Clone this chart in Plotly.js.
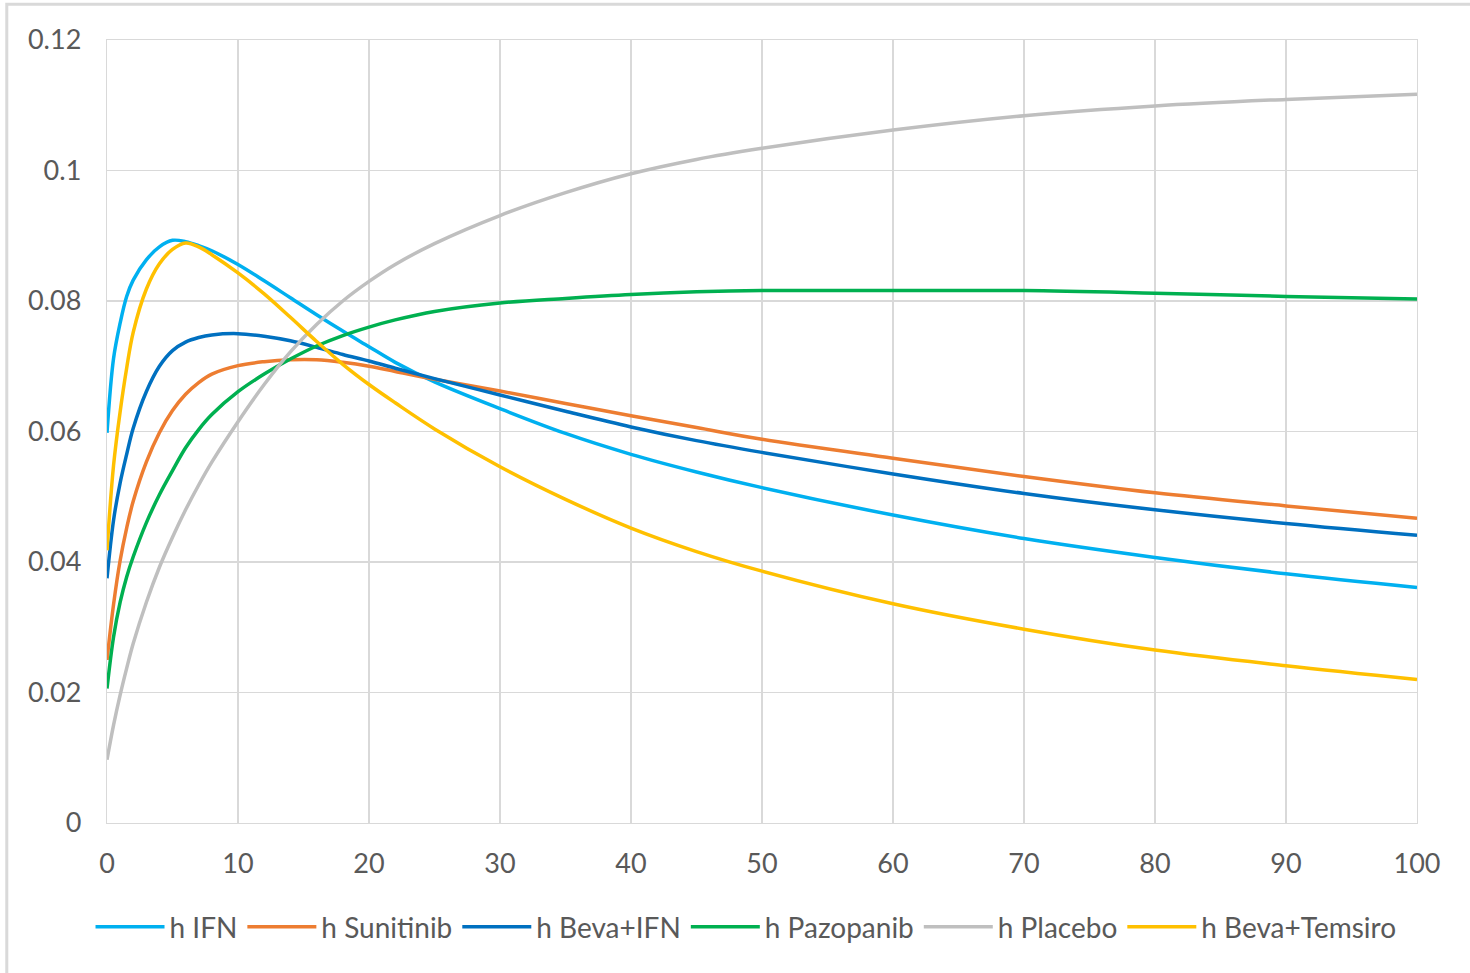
<!DOCTYPE html>
<html>
<head>
<meta charset="utf-8">
<script src="https://cdn.plot.ly/plotly-3.0.1.min.js"></script>
<style>
  html, body { margin: 0; padding: 0; background: #ffffff; }
  #chart { width: 1470px; height: 973px; }
</style>
</head>
<body>
<div id="chart"></div>
<script>
const months = [0, 0.5, 1, 1.5, 2, 3, 4, 5, 6, 7, 8, 10, 12, 14, 16, 18, 20, 22, 25, 30, 35, 40, 45, 50, 60, 70, 80, 90, 100];

const seriesNames = ["h IFN", "h Sunitinib", "h Beva+IFN", "h Pazopanib", "h Placebo", "h Beva+Temsiro"];

const hIFN = [0.0598, 0.0712, 0.0766, 0.0807, 0.0832, 0.0863, 0.0883, 0.0893, 0.0891, 0.0885, 0.0877, 0.0856, 0.0831, 0.0805, 0.0779, 0.0754, 0.0730, 0.0706, 0.0676, 0.0635, 0.0597, 0.0565, 0.0538, 0.0514, 0.0472, 0.0436, 0.0407, 0.0382, 0.0361];

const hSunitinib = [0.0250, 0.0335, 0.0402, 0.0452, 0.0493, 0.0553, 0.0598, 0.0632, 0.0657, 0.0675, 0.0688, 0.0701, 0.0707, 0.0710, 0.0710, 0.0706, 0.0700, 0.0692, 0.0680, 0.0662, 0.0643, 0.0624, 0.0606, 0.0588, 0.0559, 0.0531, 0.0506, 0.0486, 0.0467];

const hBevaIFN = [0.0375, 0.0464, 0.0521, 0.0565, 0.0605, 0.0661, 0.0700, 0.0724, 0.0737, 0.0744, 0.0748, 0.0750, 0.0746, 0.0739, 0.0729, 0.0718, 0.0708, 0.0697, 0.0681, 0.0656, 0.0631, 0.0607, 0.0586, 0.0568, 0.0535, 0.0505, 0.0480, 0.0459, 0.0441];

const hPazopanib = [0.0206, 0.0285, 0.0338, 0.0377, 0.0408, 0.0460, 0.0503, 0.0540, 0.0575, 0.0603, 0.0626, 0.0661, 0.0688, 0.0711, 0.0731, 0.0747, 0.0760, 0.0771, 0.0784, 0.0797, 0.0804, 0.0810, 0.0814, 0.0816, 0.0816, 0.0816, 0.0812, 0.0807, 0.0803];

const hPlacebo = [0.0097, 0.0150, 0.0196, 0.0237, 0.0275, 0.0338, 0.0392, 0.0438, 0.0480, 0.0518, 0.0553, 0.0615, 0.0672, 0.0722, 0.0764, 0.0800, 0.0830, 0.0856, 0.0888, 0.0931, 0.0966, 0.0995, 0.1017, 0.1034, 0.1062, 0.1084, 0.1099, 0.1109, 0.1117];

const hBevaTemsiro = [0.0418, 0.0548, 0.0630, 0.0697, 0.0752, 0.0818, 0.0857, 0.0879, 0.0889, 0.0883, 0.0871, 0.0843, 0.0811, 0.0775, 0.0738, 0.0703, 0.0672, 0.0644, 0.0604, 0.0546, 0.0496, 0.0452, 0.0416, 0.0386, 0.0336, 0.0297, 0.0265, 0.0241, 0.0220];

const seriesValues = [hIFN, hSunitinib, hBevaIFN, hPazopanib, hPlacebo, hBevaTemsiro];
const seriesColors = ["#00B0F0", "#ED7D31", "#0070C0", "#00B050", "#BFBFBF", "#FFC000"];

const xTicks = [0, 10, 20, 30, 40, 50, 60, 70, 80, 90, 100];
const yTicks = [0, 0.02, 0.04, 0.06, 0.08, 0.1, 0.12];
const yTickText = ["0", "0.02", "0.04", "0.06", "0.08", "0.1", "0.12"];

const traces = seriesNames.map((name, i) => ({
  type: "scatter",
  mode: "lines",
  name: name,
  x: months,
  y: seriesValues[i],
  line: { color: seriesColors[i], width: 3.5, shape: "spline", smoothing: 1 },
  hoverinfo: "skip"
}));

const gridColor = "#D9D9D9";
const textColor = "#595959";
const fontFamily = "Lato, 'Open Sans', 'Noto Sans', sans-serif";

const layout = {
  width: 1470,
  height: 973,
  margin: { l: 107, r: 53, t: 40, b: 150, pad: 0 },
  paper_bgcolor: "#ffffff",
  plot_bgcolor: "#ffffff",
  font: { family: fontFamily, size: 26, color: textColor },
  showlegend: true,
  legend: {
    orientation: "h",
    x: 0.4878,
    xanchor: "center",
    y: -0.133,
    yanchor: "middle",
    font: { family: fontFamily, size: 28, color: textColor },
    itemwidth: 69,
    tracegroupgap: 0,
    bgcolor: "rgba(0,0,0,0)"
  },
  xaxis: {
    range: [0, 100],
    tickmode: "array",
    tickvals: xTicks,
    ticktext: xTicks.map(String),
    showgrid: true,
    gridcolor: gridColor,
    gridwidth: 1.3,
    zeroline: false,
    showline: true,
    linecolor: gridColor,
    linewidth: 1.3,
    mirror: true,
    ticks: "",
    ticklabelstandoff: 16,
    tickfont: { family: fontFamily, size: 27, color: textColor },
    fixedrange: true
  },
  yaxis: {
    range: [0, 0.12],
    tickmode: "array",
    tickvals: yTicks,
    ticktext: yTickText,
    showgrid: true,
    gridcolor: gridColor,
    gridwidth: 1.3,
    zeroline: false,
    showline: true,
    linecolor: gridColor,
    linewidth: 1.3,
    mirror: true,
    ticks: "",
    ticklabelstandoff: 19,
    tickfont: { family: fontFamily, size: 27, color: textColor },
    fixedrange: true
  },
  shapes: [{
    type: "rect",
    xref: "paper",
    yref: "paper",
    x0: -0.0765,
    x1: 1.06,
    y0: -0.22,
    y1: 1.0455,
    line: { color: "#D9D9D9", width: 3 },
    fillcolor: "rgba(0,0,0,0)",
    layer: "below"
  }]
};

Plotly.newPlot("chart", traces, layout, { displayModeBar: false, staticPlot: true });
</script>
</body>
</html>
